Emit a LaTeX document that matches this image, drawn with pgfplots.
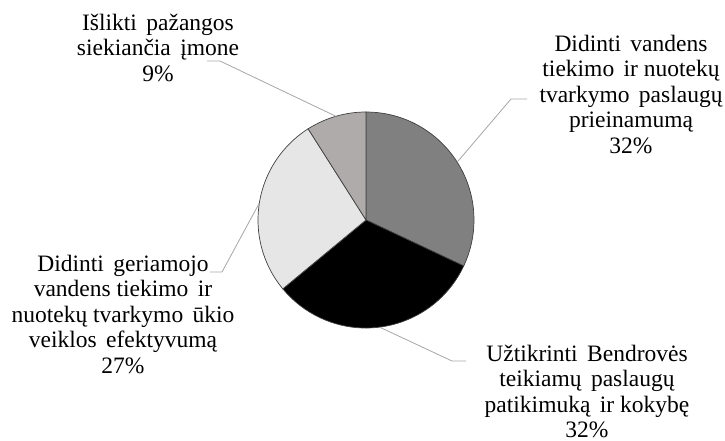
\documentclass[border=0pt]{standalone}
\usepackage{fontspec}
\setmainfont{Liberation Serif}
\usepackage{pgfplots}
\usepackage{pgfplotstable}
\pgfplotsset{compat=1.18}

\definecolor{sliceA}{HTML}{808080}
\definecolor{sliceB}{HTML}{000000}
\definecolor{sliceC}{HTML}{E6E6E6}
\definecolor{sliceD}{HTML}{AFABAB}
\definecolor{leader}{HTML}{A6A6A6}
\definecolor{rim}{HTML}{404040}

\tikzset{lbl/.style={font=\fontsize{23.5}{25.4}\selectfont, align=center, inner sep=0pt, anchor=north}}
\newcommand{\ws}{\hspace{0.15em} }% the wider gaps of the justified labels

% shares in percent, clockwise from 12 o'clock
\pgfplotstableread{
share colour
32 sliceA
32 sliceB
27 sliceC
9  sliceD
}\piedata

\begin{document}
\begin{tikzpicture}
\begin{axis}[
  name=ax,
  scale only axis,
  width=725pt, height=441pt,
  xmin=0, xmax=725, ymin=0, ymax=441,
  hide axis,
  clip=false,
  ]
\pgfplotsextra{
  \gdef\startang{90}
  \foreach \i in {0,...,3}{
    \pgfplotstablegetelem{\i}{share}\of\piedata
    \let\val\pgfplotsretval
    \pgfplotstablegetelem{\i}{colour}\of\piedata
    \let\col\pgfplotsretval
    \pgfmathsetmacro\endang{\startang-3.6*\val}
    \filldraw[fill=\col, draw=rim, line width=0.7pt]
      (axis cs:366,221) -- ++(\startang:108pt)
      arc[start angle=\startang, end angle=\endang, radius=108pt] -- cycle;
    \global\let\startang\endang
  }
}

% leader lines
\draw[leader, line width=0.8pt] (axis cs:457.2,278.9) -- (axis cs:511,342) -- (axis cs:527,342);
\draw[leader, line width=0.8pt] (axis cs:379.5,113.9) -- (axis cs:452,80) -- (axis cs:466,80);
\draw[leader, line width=0.8pt] (axis cs:259.3,237.9) -- (axis cs:222,169) -- (axis cs:210,169);
\draw[leader, line width=0.8pt] (axis cs:335.9,324.7) -- (axis cs:220,380) -- (axis cs:207,380);

% labels
\node[lbl] at (axis cs:158,427) {Išlikti\ws pažangos\\siekiančia\ws įmone\\9\%};
\node[lbl] at (axis cs:631,406) {Didinti\ws vandens\\tiekimo\ws ir nuotekų\\tvarkymo\ws paslaugų\\prieinamumą\\32\%};
\node[lbl] at (axis cs:123,186) {Didinti\ws geriamojo\\vandens tiekimo\ws ir\\nuotekų tvarkymo\ws ūkio\\veiklos\ws efektyvumą\\27\%};
\node[lbl] at (axis cs:587,96) {Užtikrinti\ws Bendrovės\\teikiamų\ws paslaugų\\patikimuką\ws ir kokybę\\32\%};
\end{axis}
\pgfresetboundingbox
\path[use as bounding box] (ax.south west) rectangle (ax.north east);
\end{tikzpicture}
\end{document}
